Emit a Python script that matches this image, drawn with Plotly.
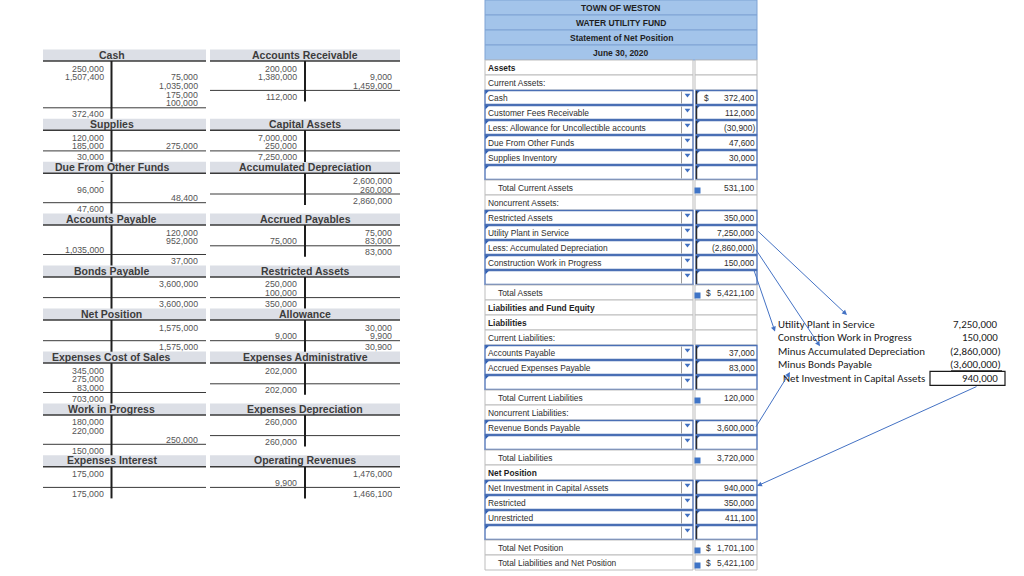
import plotly.graph_objects as go

# ---------------- T-account data (pairs: left, right) ----------------
t_titles = ["Cash", "Accounts Receivable",
            "Supplies", "Capital Assets",
            "Due From Other Funds", "Accumulated Depreciation",
            "Accounts Payable", "Accrued Payables",
            "Bonds Payable", "Restricted Assets",
            "Net Position", "Allowance",
            "Expenses Cost of Sales", "Expenses Administrative",
            "Work in Progress", "Expenses Depreciation",
            "Expenses Interest", "Operating Revenues"]
t_debits = [["250,000", "1,507,400"], ["200,000", "1,380,000"],
            ["120,000", "185,000"], ["7,000,000", "250,000"],
            ["-", "96,000"], [],
            ["", "", "1,035,000"], ["", "75,000"],
            [], ["250,000", "100,000"],
            [], ["", "9,000"],
            ["345,000", "275,000", "83,000"], ["202,000"],
            ["180,000", "220,000"], ["260,000"],
            ["175,000"], ["", "9,900"]]
t_credits = [["", "75,000", "1,035,000", "175,000", "100,000"], ["", "9,000", "1,459,000"],
             ["", "275,000"], [],
             ["", "", "48,400"], ["2,600,000", "260,000"],
             ["120,000", "952,000"], ["75,000", "83,000"],
             ["3,600,000"], [],
             ["1,575,000"], ["30,000", "9,900"],
             [], [],
             ["", "", "250,000"], [],
             [], ["1,476,000"]]
t_bal_side = ["dr", "dr", "dr", "dr", "dr", "cr", "cr", "cr", "cr", "dr",
              "cr", "cr", "dr", "dr", "dr", "dr", "dr", "cr"]
t_balances = ["372,400", "112,000", "30,000", "7,250,000", "47,600", "2,860,000",
              "37,000", "83,000", "3,600,000", "350,000", "1,575,000", "30,900",
              "703,000", "202,000", "150,000", "260,000", "175,000", "1,466,100"]

# ---------------- Statement of Net Position data ----------------
stmt_title = ["TOWN OF WESTON", "WATER UTILITY FUND", "Statement of Net Position", "June 30, 2020"]
stmt_labels = ["Assets", "Current Assets:", "Cash", "Customer Fees Receivable",
               "Less: Allowance for Uncollectible accounts", "Due From Other Funds",
               "Supplies Inventory", "", "Total Current Assets", "Noncurrent Assets:",
               "Restricted Assets", "Utility Plant in Service", "Less: Accumulated Depreciation",
               "Construction Work in Progress", "", "Total Assets", "Liabilities and Fund Equity",
               "Liabilities", "Current Liabilities:", "Accounts Payable", "Accrued Expenses Payable",
               "", "Total Current Liabilities", "Noncurrent Liabilities:", "Revenue Bonds Payable",
               "", "Total Liabilities", "Net Position", "Net Investment in Capital Assets",
               "Restricted", "Unrestricted", "", "Total Net Position",
               "Total Liabilities and Net Position"]
stmt_values = ["", "", "372,400", "112,000", "(30,900)", "47,600", "30,000", "", "531,100", "",
               "350,000", "7,250,000", "(2,860,000)", "150,000", "", "5,421,100", "", "", "",
               "37,000", "83,000", "", "120,000", "", "3,600,000", "", "3,720,000", "",
               "940,000", "350,000", "411,100", "", "1,701,100", "5,421,100"]
stmt_kinds = ["head", "sub", "input", "input", "input", "input", "input", "input", "total", "sub",
              "input", "input", "input", "input", "input", "total", "head", "head", "sub",
              "input", "input", "input", "total", "sub", "input", "input", "total", "head",
              "input", "input", "input", "input", "total", "total"]
stmt_dollar = [2, 15, 32, 33]

# ---------------- Net investment in capital assets note ----------------
nica_labels = ["Utility Plant in Service", "Construction Work in Progress",
               "Minus Accumulated Depreciation", "Minus Bonds Payable",
               "Net Investment in Capital Assets"]
nica_values = ["7,250,000", "150,000", "(2,860,000)", "(3,600,000)", "940,000"]
# statement row -> note row links (True = arrow from statement to note)
arrow_links = [(11, 0, True), (12, 2, True), (13, 1, True), (24, 3, True), (28, 4, False)]

# ======================================================================
shapes, annos = [], []
ARIAL = "Liberation Sans, Arial, sans-serif"
CALIBRI = "Carlito, Lato, sans-serif"


def line(x0, y0, x1, y1, color, width):
    shapes.append(dict(type="line", xref="x", yref="y", x0=x0, y0=y0, x1=x1, y1=y1,
                       line=dict(color=color, width=width)))


def rect(x0, y0, x1, y1, fill, color, width):
    shapes.append(dict(type="rect", xref="x", yref="y", x0=x0, y0=y0, x1=x1, y1=y1,
                       fillcolor=fill, line=dict(color=color, width=width), layer="below"))


def text(x, y, s, size, color, anchor="right", family=ARIAL, bold=False):
    annos.append(dict(x=x, y=y, xref="x", yref="y", text=("<b>%s</b>" % s) if bold else s,
                      showarrow=False, xanchor=anchor, yanchor="middle", borderpad=0,
                      font=dict(family=family, size=size, color=color)))


# ---------------- T-accounts ----------------
col_geo = [dict(x0=43, x1=206, vx=111.5, dr=105, cr=199),
           dict(x0=210, x1=400, vx=305, dr=298, cr=393)]
ROW0, RH, LGAP, BGAP, C = 13.0, 8.7, 4.5, 6.5, 34.4
VAL_SIZE = 8.8
yh = 55.5
for k in range(len(t_titles) // 2):
    pair_rows = 2
    for j in range(2):
        idx = 2 * k + j
        g = col_geo[j]
        dr, cr = t_debits[idx], t_credits[idx]
        n = max(len(dr), len(cr), 2)
        pair_rows = max(pair_rows, n)
        rect(g["x0"], yh - 6, g["x1"], yh + 5.5, "#dcdfe6", "#dcdfe6", 0)
        line(g["x0"], yh + 5.5, g["x1"], yh + 5.5, "#3a3a3a", 1.5)
        text(g["vx"], yh - 0.8, t_titles[idx], 10.5, "#3c3c3c", "center", bold=True)
        for i, v in enumerate(dr):
            if v:
                text(g["dr"], yh + ROW0 + RH * i, v, VAL_SIZE, "#555555")
        for i, v in enumerate(cr):
            if v:
                text(g["cr"], yh + ROW0 + RH * i, v, VAL_SIZE, "#555555")
        ly = yh + ROW0 + RH * (n - 1) + LGAP
        line(g["x0"], ly, g["x1"], ly, "#3a3a3a", 1)
        by = ly + BGAP
        text(g["dr"] if t_bal_side[idx] == "dr" else g["cr"], by, t_balances[idx], VAL_SIZE, "#555555")
        line(g["vx"], yh + 5.5, g["vx"], by + 4.5, "#1e1e1e", 2)
    yh += C + RH * (pair_rows - 1)

# ---------------- Statement table ----------------
TX0, TLX1, TVX0, TX1 = 485, 693, 695, 757
TS = 8.4
for i, s in enumerate(stmt_title):
    rect(TX0, 15 * i, TX1, 15 * i + 15, "#a3c4ea", "#7fa3d4", 1)
    text((TX0 + TX1) / 2, 15 * i + 7.5, s, 8.5, "#1f1f1f", "center", bold=True)

drop_x, drop_y, corner_x, corner_y, f_x, f_y = [], [], [], [], [], []
for i, lab in enumerate(stmt_labels):
    y0 = 60 + 15 * i
    yc = y0 + 7.5
    kind = stmt_kinds[i]
    if kind == "input":
        rect(TX0, y0 + 0.5, TLX1, y0 + 14.5, "white", "#4a6fb5", 1.3)
        rect(TVX0 + 1, y0 + 0.5, TX1, y0 + 14.5, "white", "#4a6fb5", 1.3)
        line(TVX0 + 1.5, y0 + 1, TVX0 + 1.5, y0 + 14, "#2b2b2b", 1.5)
        line(681.5, y0 + 1.5, 681.5, y0 + 13.5, "#9a9a9a", 1)
        drop_x.append(687.5)
        drop_y.append(y0 + 5)
        corner_x += [TX0 + 1.5, TVX0 + 2.5]
        corner_y += [y0 + 2, y0 + 2]
    else:
        rect(TX0, y0, TLX1, y0 + 15, "white", "#bdbdbd", 1)
        rect(TVX0, y0, TX1, y0 + 15, "white", "#bdbdbd", 1)
    if kind == "total":
        f_x.append(TVX0 + 2.5)
        f_y.append(yc + 3)
        text(497, yc, lab, TS, "#2e2e2e", "left")
    elif kind == "head":
        text(487, yc, lab, TS, "#1f1f1f", "left", bold=True)
    else:
        text(486.5, yc, lab, TS, "#2e2e2e", "left")
    if stmt_values[i]:
        text(755.5, yc, stmt_values[i], TS, "#2e2e2e")
    if i in stmt_dollar:
        text(705 if kind == "total" else 703, yc, "$", TS, "#2e2e2e", "left")

# ---------------- Note box ----------------
NX, NVX, NY0, NDY = 777, 999, 324, 13.6
for i, lab in enumerate(nica_labels):
    y = NY0 + NDY * i
    indent = 5 if i == len(nica_labels) - 1 else 0
    text(NX + indent, y, lab, 10.9, "#1a1a1a", "left", family=CALIBRI)
    v = nica_values[i]
    text(NVX + (3 if v.startswith("(") else 0), y, v, 10.9, "#1a1a1a", family=CALIBRI)
line(951, NY0 + NDY * 3 + 6, 1002, NY0 + NDY * 3 + 6, "#1a1a1a", 1)
rect(930, NY0 + NDY * 4 - 7, 1005, NY0 + NDY * 4 + 7, "white", "#1a1a1a", 1.2)

# ---------------- Arrows ----------------
arrow_geo = {11: (756.7, 230, 847, -9), 12: (755, 248.3, 820, -5),
             13: (753.3, 268.3, 775, -6), 24: (755, 428.3, 790, 7.2)}
for srow, nrow, fwd in arrow_links:
    sy = 60 + 15 * srow + 7.5
    ny = NY0 + NDY * nrow
    if fwd:
        sx, sy2, tx, dy = arrow_geo[srow]
        annos.append(dict(x=tx, y=ny + dy, ax=sx, ay=sy2, xref="x", yref="y", axref="x", ayref="y",
                          text="", showarrow=True, arrowhead=2, arrowsize=1, arrowwidth=1,
                          arrowcolor="#4472c4"))
    else:
        annos.append(dict(x=757, y=sy - 1.5, ax=978, ay=ny + 7.5, xref="x", yref="y", axref="x",
                          ayref="y", text="", showarrow=True, arrowhead=2, arrowsize=1,
                          arrowwidth=1, arrowcolor="#4472c4"))

fig = go.Figure()
fig.add_trace(go.Scatter(x=drop_x, y=drop_y, mode="markers", hoverinfo="skip",
                         marker=dict(symbol="triangle-down", size=5, color="#3f6fc0")))
fig.add_trace(go.Scatter(x=corner_x, y=corner_y, mode="markers", hoverinfo="skip",
                         marker=dict(symbol="triangle-nw", size=4, color="#2f5fb3")))
fig.add_trace(go.Scatter(x=f_x, y=f_y, mode="markers", hoverinfo="skip",
                         marker=dict(symbol="square", size=6, color="#3f74c6")))
fig.update_layout(width=1024, height=576, margin=dict(l=0, r=0, t=0, b=0),
                  xaxis=dict(range=[0, 1024], visible=False, fixedrange=True),
                  yaxis=dict(range=[576, 0], visible=False, fixedrange=True),
                  plot_bgcolor="white", paper_bgcolor="white", showlegend=False,
                  shapes=shapes, annotations=annos)
fig.write_html("out.html", config={"displayModeBar": False},
               post_script="document.body.style.margin='0';document.body.style.overflow='hidden';")
